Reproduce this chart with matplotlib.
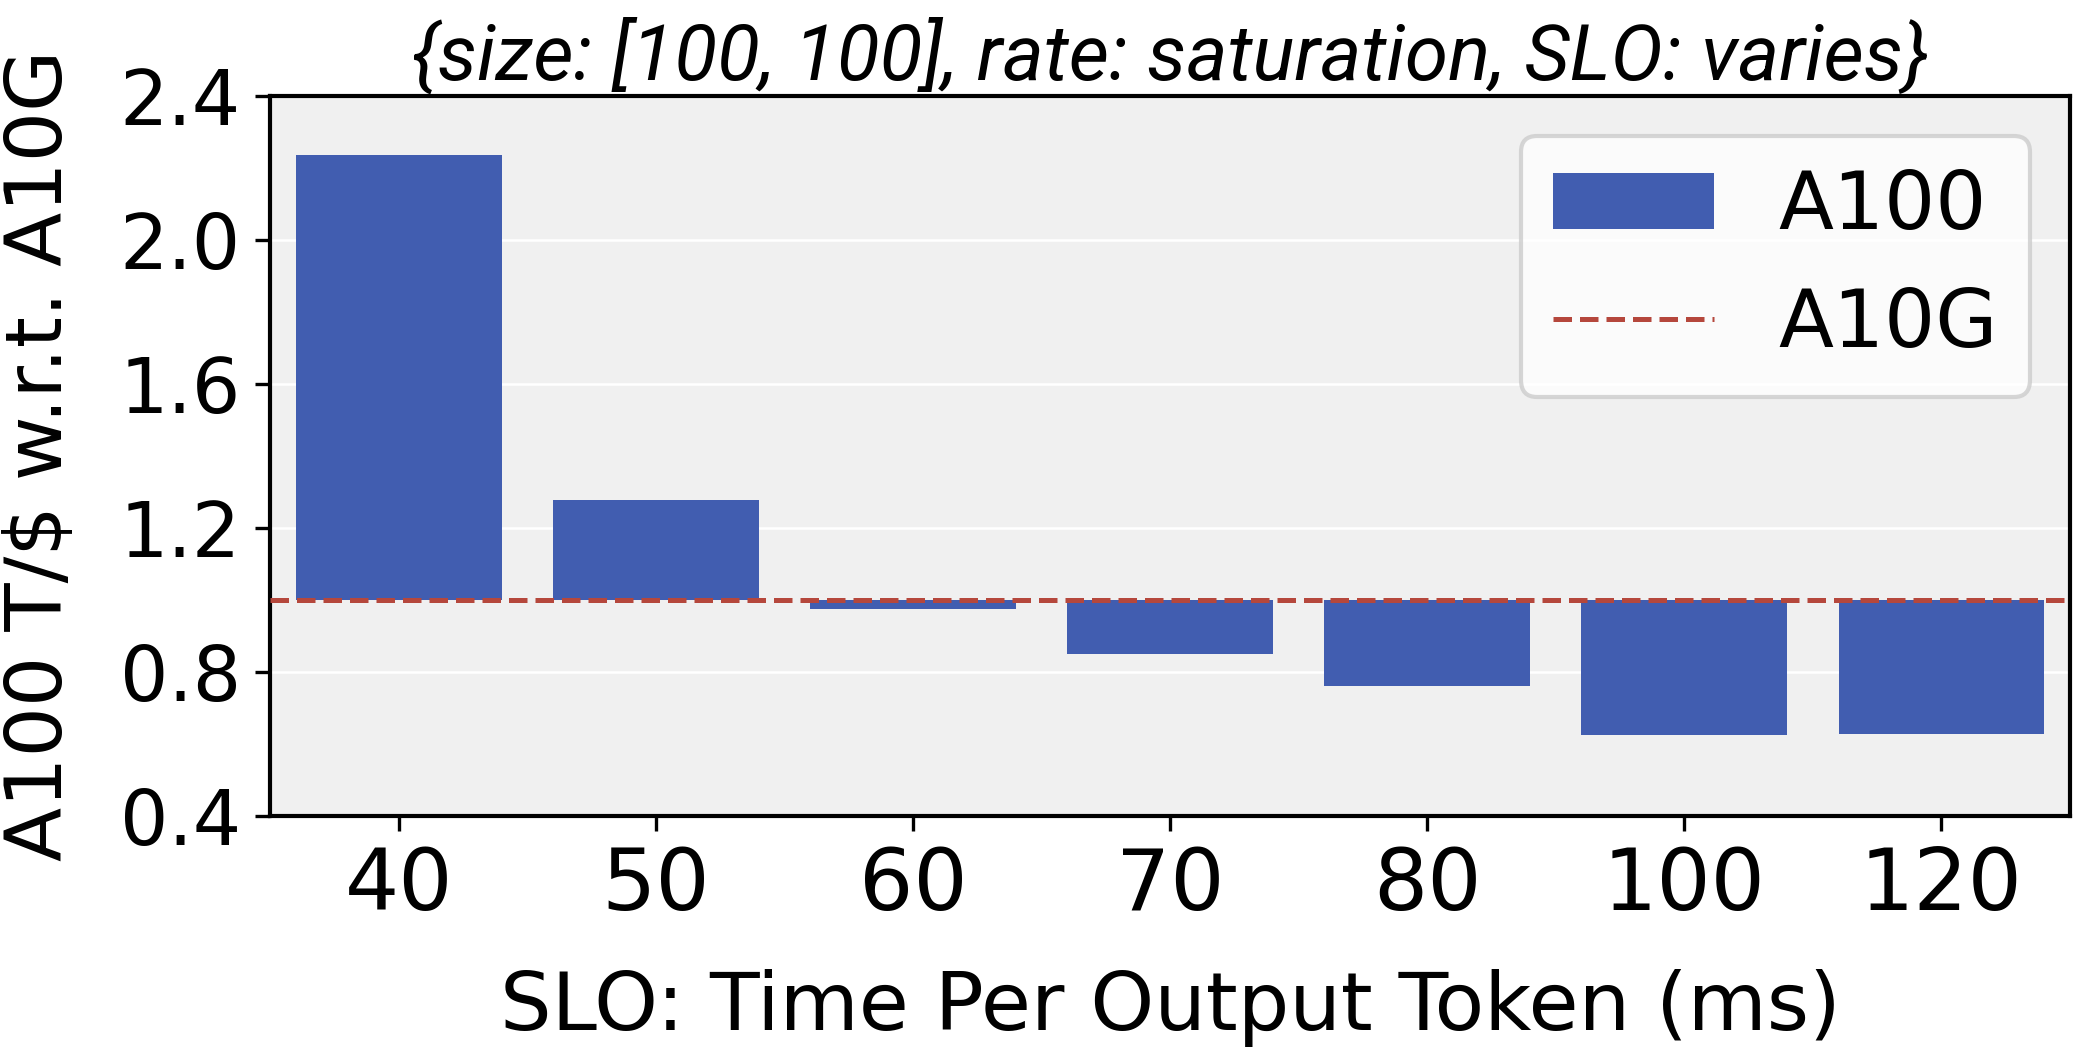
import numpy as np
import matplotlib
matplotlib.use("Agg")
import matplotlib.pyplot as plt

# valeurs
slo_ms = ["40", "50", "60", "70", "80", "100", "120"]
a100_ratio = [2.236, 1.277, 0.973, 0.848, 0.759, 0.625, 0.626]
a10g_ratio = 1.0
y_ticks = [0.4, 0.8, 1.2, 1.6, 2.0, 2.4]

bar_color = "#415db0"
line_color = "#b5473c"

plt.rcParams['font.family'] = ['DejaVu Sans']

fig = plt.figure(figsize=(2084 / 300, 1050 / 300), dpi=300)
ax = fig.add_axes([0.1296, 0.2232, 0.8637, 0.6856])
ax.set_facecolor("#f0f0f0")

x = np.arange(len(slo_ms))
heights = np.array(a100_ratio) - a10g_ratio
bars = ax.bar(x, heights, bottom=a10g_ratio, width=0.8, color=bar_color,
              label="A100", zorder=2)
line = ax.axhline(a10g_ratio, color=line_color, linestyle="--", linewidth=1.2,
                  label="A10G", zorder=3)

ax.yaxis.grid(True, color="white", linewidth=0.6, zorder=0)
ax.set_axisbelow(True)

ax.set_xlim(-0.5, len(slo_ms) - 0.5)
ax.set_ylim(0.4, 2.4)
ax.set_yticks(y_ticks)
ax.set_yticklabels([f"{v:.1f}" for v in y_ticks])
ax.set_xticks(x)
ax.set_xticklabels(slo_ms)
ax.tick_params(axis="y", labelsize=18.3)
ax.tick_params(axis="x", labelsize=20.5)

for s in ax.spines.values():
    s.set_linewidth(1.0)
    s.set_color("black")

ax.set_xlabel("SLO: Time Per Output Token (ms)", fontsize=19.5, labelpad=10)
ax.set_ylabel("A100 T/\\$ w.r.t. A10G", fontsize=19, labelpad=10)
ax.set_title("{size: [100, 100], rate: saturation, SLO: varies}",
             fontsize=18.8, family="Roboto", style="italic", pad=1)

ax.legend([bars, line], ["A100", "A10G"], loc="upper right", fontsize=19.3)

fig.savefig("out.png", dpi=300)
